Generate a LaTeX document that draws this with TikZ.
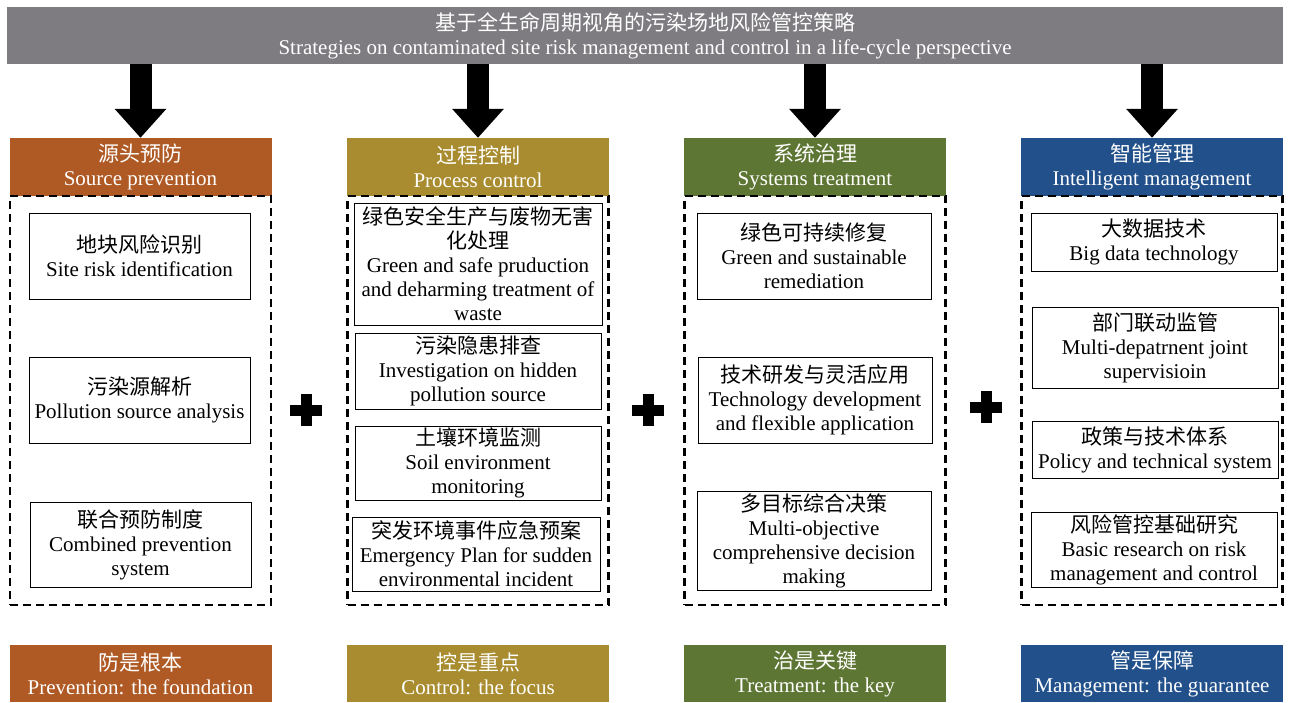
\documentclass[tikz,border=0pt]{standalone}
\usepackage{fontspec}
\setmainfont{Liberation Serif}
\newfontfamily\cjk{Noto Sans CJK SC}
\usepackage{tikz}
\usetikzlibrary{arrows.meta, calc, positioning}
\usepackage{xcolor}

\definecolor{titlegray}{HTML}{7E7C80}
\definecolor{srcorange}{HTML}{AF5A25}
\definecolor{procgold}{HTML}{A88C2F}
\definecolor{sysgreen}{HTML}{5E7633}
\definecolor{intblue}{HTML}{22508A}

\newcommand{\zh}[1]{{\cjk #1}}

\begin{document}
\begin{tikzpicture}[x=1pt, y=-1pt,
  every node/.style={align=center, font=\fontsize{21}{24}\selectfont},
  titlebox/.style={fill=titlegray, text=white, minimum width=1276pt, minimum height=57pt, inner sep=0pt},
  headbox/.style={fill=#1, text=white, minimum width=262pt, minimum height=58pt, inner sep=0pt},
  footbox/.style={fill=#1, text=white, minimum width=262pt, minimum height=57pt, inner sep=0pt},
  frame/.style={draw, line width=2.2pt, dash pattern=on 8pt off 5pt, minimum width=261pt, minimum height=409pt, inner sep=0pt},
  itembox/.style={draw, line width=0.9pt, fill=white, inner sep=0pt},
  bigarrow/.style={line width=22pt, -{Triangle[width=50pt, length=29pt]}}
]
\useasboundingbox (0,0) rectangle (1289,702);

% Title
\node (title) [titlebox] at (645,35.5) {\zh{基于全生命周期视角的污染场地风险管控策略}\\Strategies on contaminated site risk management and control in a life-cycle perspective};

% Column heads
\node (head1) [headbox=srcorange] at (140.5,167) {\zh{源头预防}\\Source prevention};
\node (head2) [headbox=procgold] at (478,167) {\zh{过程控制}\\Process control};
\node (head3) [headbox=sysgreen] at (815,167) {\zh{系统治理}\\Systems treatment};
\node (head4) [headbox=intblue] at (1152,167) {\zh{智能管理}\\Intelligent management};

% Dashed frames
\node (frame1) [frame] at (140.5,400.5) {};
\node (frame2) [frame] at (478,400.5) {};
\node (frame3) [frame] at (815,400.5) {};
\node (frame4) [frame] at (1152,400.5) {};

% Source prevention items
\node (src1) [itembox, minimum width=221pt, minimum height=86pt] at (139.5,256) {\zh{地块风险识别}\\Site risk identification};
\node (src2) [itembox, minimum width=221pt, minimum height=86pt] at (139.5,400) {\zh{污染源解析}\\Pollution source analysis};
\node (src3) [itembox, minimum width=221pt, minimum height=85pt] at (140.5,544.5) {\zh{联合预防制度}\\Combined prevention\\system};

% Process control items
\node (proc1) [itembox, minimum width=248pt, minimum height=122pt] at (478,264) {\zh{绿色安全生产与废物无害}\\\zh{化处理}\\Green and safe pruduction\\and deharming treatment of\\waste};
\node (proc2) [itembox, minimum width=246pt, minimum height=76pt] at (478,371) {\zh{污染隐患排查}\\Investigation on hidden\\pollution source};
\node (proc3) [itembox, minimum width=246pt, minimum height=74pt] at (478,463) {\zh{土壤环境监测}\\Soil environment\\monitoring};
\node (proc4) [itembox, minimum width=248pt, minimum height=74pt] at (476,554) {\zh{突发环境事件应急预案}\\Emergency Plan for sudden\\environmental incident};

% Systems treatment items
\node (sys1) [itembox, minimum width=234pt, minimum height=86pt] at (814,256) {\zh{绿色可持续修复}\\Green and sustainable\\remediation};
\node (sys2) [itembox, minimum width=234pt, minimum height=86pt] at (815,400) {\zh{技术研发与灵活应用}\\Technology development\\and flexible application};
\node (sys3) [itembox, minimum width=234pt, minimum height=99pt] at (814,540.5) {\zh{多目标综合决策}\\Multi-objective\\comprehensive decision\\making};

% Intelligent management items
\node (int1) [itembox, minimum width=246pt, minimum height=58pt] at (1154,242) {\zh{大数据技术}\\Big data technology};
\node (int2) [itembox, minimum width=246pt, minimum height=81pt] at (1155,347.5) {\zh{部门联动监管}\\Multi-depatrnent joint\\supervisioin};
\node (int3) [itembox, minimum width=246pt, minimum height=57pt] at (1155,449.5) {\zh{政策与技术体系}\\Policy and technical system};
\node (int4) [itembox, minimum width=246pt, minimum height=75pt] at (1154,549.5) {\zh{风险管控基础研究}\\Basic research on risk\\management and control};

% Footer
\node (foot1) [footbox=srcorange] at (140.5,673.5) {\zh{防是根本}\\Prevention: the foundation};
\node (foot2) [footbox=procgold] at (478,673.5) {\zh{控是重点}\\Control: the focus};
\node (foot3) [footbox=sysgreen] at (815,673.5) {\zh{治是关键}\\Treatment: the key};
\node (foot4) [footbox=intblue] at (1152,673.5) {\zh{管是保障}\\Management: the guarantee};

% Arrows
\draw[bigarrow] (title.south -| head1.north) -- (head1.north);
\draw[bigarrow] (title.south -| head2.north) -- (head2.north);
\draw[bigarrow] (title.south -| head3.north) -- (head3.north);
\draw[bigarrow] (title.south -| head4.north) -- (head4.north);

% Plus signs
\coordinate (plus1) at (306,410);
\coordinate (plus2) at (648,410);
\coordinate (plus3) at (986,407);
\foreach \p in {plus1, plus2, plus3} {
  \fill (\p) +(-16,-5.5) rectangle +(16,5.5);
  \fill (\p) +(-5.5,-16) rectangle +(5.5,16);
}
\end{tikzpicture}
\end{document}
